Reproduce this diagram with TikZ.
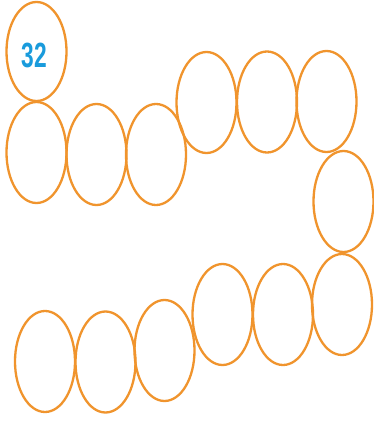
\documentclass[tikz,border=0pt]{standalone}
\usepackage{fontspec}
\setmainfont{Liberation Sans}
\definecolor{ring}{RGB}{240,148,45}
\definecolor{numblue}{RGB}{25,155,220}
\begin{document}
\begin{tikzpicture}[x=1pt,y=-1pt,
  bead/.style={ring,line width=2.3pt}]
\useasboundingbox (0,0) rectangle (374,423);
\fill[white] (0,0) rectangle (374,423);
\draw[bead] (36.5,51.5) ellipse [x radius=30,y radius=49.5];
\node (n) at (34.5,55.5) {\color{numblue}\scalebox{0.65}[1]{\fontsize{35}{35}\selectfont\bfseries 32}};
\foreach \x/\y in {36.5/152.5, 96.5/154.5, 156/154.5, 206.5/102.5, 267/102, 326.5/101.5, 343.5/201.5, 342/304.5, 283/314.5, 222.5/314.5, 164.5/350.5, 105.5/362, 45/361.5}
  \draw[bead] (\x,\y) ellipse [x radius=30,y radius=50.5];
\end{tikzpicture}
\end{document}
